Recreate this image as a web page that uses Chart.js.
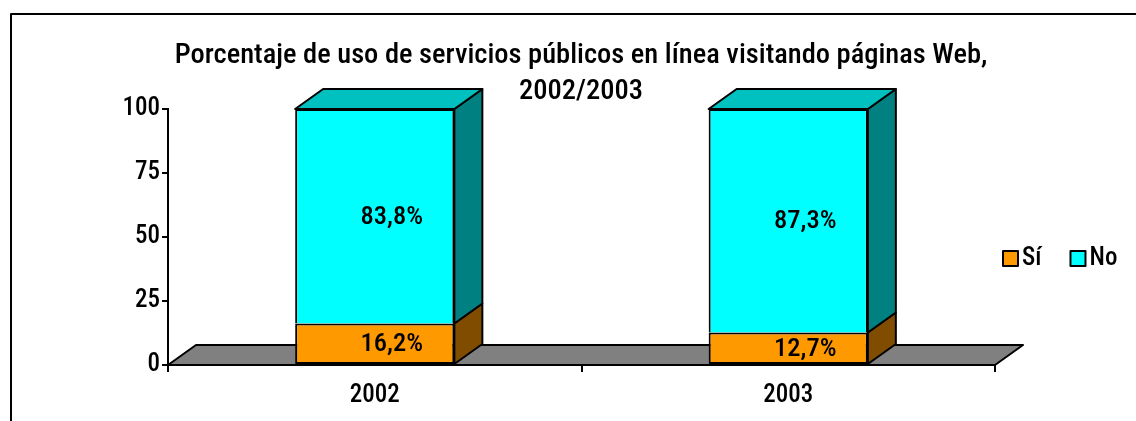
<!DOCTYPE html>
<html>
<head>
<meta charset="utf-8">
<script src="https://cdn.jsdelivr.net/npm/chart.js@4"></script>
<style>
  html, body { margin: 0; padding: 0; background: #fff; }
  canvas { display: block; }
</style>
</head>
<body>
<canvas id="lienzo" width="1136" height="421"></canvas>
<script>
// datos
const years = ['2002', '2003'];
const siValues = [16.2, 12.7];
const noValues = [83.8, 87.3];
const seriesNames = ['Sí', 'No'];
const titleLines = ['Porcentaje de uso de servicios públicos en línea visitando páginas Web,', '2002/2003'];

const FONT = "'Liberation Sans Narrow', 'Arial Narrow', 'Roboto Condensed', sans-serif";
const frontColors = ['#FF9900', '#00FFFF'];
const sideColors = ['#804C00', '#008080'];
const topColor = '#00C0C0';
const DX = 28, DY = 20; // profundidad 3D

function poly(ctx, pts, fill) {
	ctx.beginPath();
	ctx.moveTo(pts[0][0], pts[0][1]);
	for (let i = 1; i < pts.length; i++) ctx.lineTo(pts[i][0], pts[i][1]);
	ctx.closePath();
	ctx.fillStyle = fill;
	ctx.fill();
	ctx.stroke();
}

const box3d = {
	id: 'box3d',
	beforeDraw(chart) {
		const {ctx, chartArea: a} = chart;
		const base = chart.scales.y.getPixelForValue(0);
		ctx.save();
		ctx.strokeStyle = '#000';
		ctx.lineWidth = 2;
		ctx.lineJoin = 'round';
		// marco
		ctx.beginPath();
		ctx.moveTo(11, 421);
		ctx.lineTo(11, 14);
		ctx.lineTo(1136, 14);
		ctx.stroke();
		// suelo
		poly(ctx, [[a.left, base], [a.left + DX, base - DY], [a.right + DX, base - DY], [a.right, base]], '#808080');
		// titulo
		ctx.fillStyle = '#000';
		ctx.font = '500 28.5px ' + FONT;
		ctx.textAlign = 'center';
		ctx.textBaseline = 'middle';
		ctx.fillText(titleLines[0], 581, 56);
		ctx.fillText(titleLines[1], 581, 92);
		// leyenda
		ctx.font = '500 25px ' + FONT;
		let lx = 1003;
		chart.data.datasets.forEach((ds, i) => {
			ctx.fillStyle = ds.backgroundColor;
			ctx.fillRect(lx, 251, 15, 15);
			ctx.strokeRect(lx, 251, 15, 15);
			ctx.fillStyle = '#000';
			ctx.textAlign = 'left';
			ctx.fillText(ds.label, lx + 19, 259);
			lx += 19 + ctx.measureText(ds.label).width + 29;
		});
		ctx.restore();
	},
	afterDatasetsDraw(chart) {
		const ctx = chart.ctx;
		const last = chart.data.datasets.length - 1;
		ctx.save();
		ctx.strokeStyle = '#000';
		ctx.lineWidth = 2;
		ctx.lineJoin = 'round';
		chart.data.datasets.forEach((ds, i) => {
			const meta = chart.getDatasetMeta(i);
			meta.data.forEach((bar, j) => {
				const {x, y, base, width} = bar.getProps(['x', 'y', 'base', 'width'], true);
				const l = x - width / 2, r = x + width / 2;
				poly(ctx, [[r, y], [r + DX, y - DY], [r + DX, base - DY], [r, base]], sideColors[i]);
				if (i === last) {
					poly(ctx, [[l, y], [l + DX, y - DY], [r + DX, y - DY], [r, y]], topColor);
				}
				ctx.fillStyle = '#000';
				ctx.font = '500 26.5px ' + FONT;
				ctx.textAlign = 'center';
				ctx.textBaseline = 'middle';
				ctx.fillText(ds.data[j].toFixed(1).replace('.', ',') + '%', x + 17, (y + base) / 2 + 1);
			});
		});
		ctx.restore();
	}
};

const chart = new Chart(document.getElementById('lienzo'), {
	type: 'bar',
	data: {
		labels: years,
		datasets: [
			{label: seriesNames[0], data: siValues, backgroundColor: frontColors[0]},
			{label: seriesNames[1], data: noValues, backgroundColor: frontColors[1], borderWidth: {top: 2, left: 2, right: 2, bottom: 0}}
		]
	},
	options: {
		responsive: false,
		animation: false,
		devicePixelRatio: 1,
		layout: {padding: {left: 108, right: 141, top: 109, bottom: 16}},
		datasets: {
			bar: {
				borderColor: '#000',
				borderWidth: 2,
				borderSkipped: false,
				categoryPercentage: 1,
				barPercentage: 0.385
			}
		},
		plugins: {
			legend: {display: false},
			title: {display: false},
			tooltip: {enabled: false}
		},
		scales: {
			x: {
				stacked: true,
				offset: true,
				grid: {offset: true, drawOnChartArea: false, drawTicks: true, tickLength: 7, color: '#000', lineWidth: 2},
				border: {display: true, color: '#000', width: 2},
				ticks: {color: '#000', font: {family: FONT, size: 25, weight: 500}, padding: 9},
				afterFit: s => { s.height = 40; }
			},
			y: {
				stacked: true,
				min: 0,
				max: 100,
				ticks: {stepSize: 25, color: '#000', font: {family: FONT, size: 25, weight: 500}, padding: 2},
				grid: {drawOnChartArea: false, drawTicks: true, tickLength: 6, color: '#000', lineWidth: 2},
				border: {display: true, color: '#000', width: 2},
				afterFit: s => { s.width = 60; }
			}
		}
	},
	plugins: [box3d]
});
</script>
</body>
</html>
